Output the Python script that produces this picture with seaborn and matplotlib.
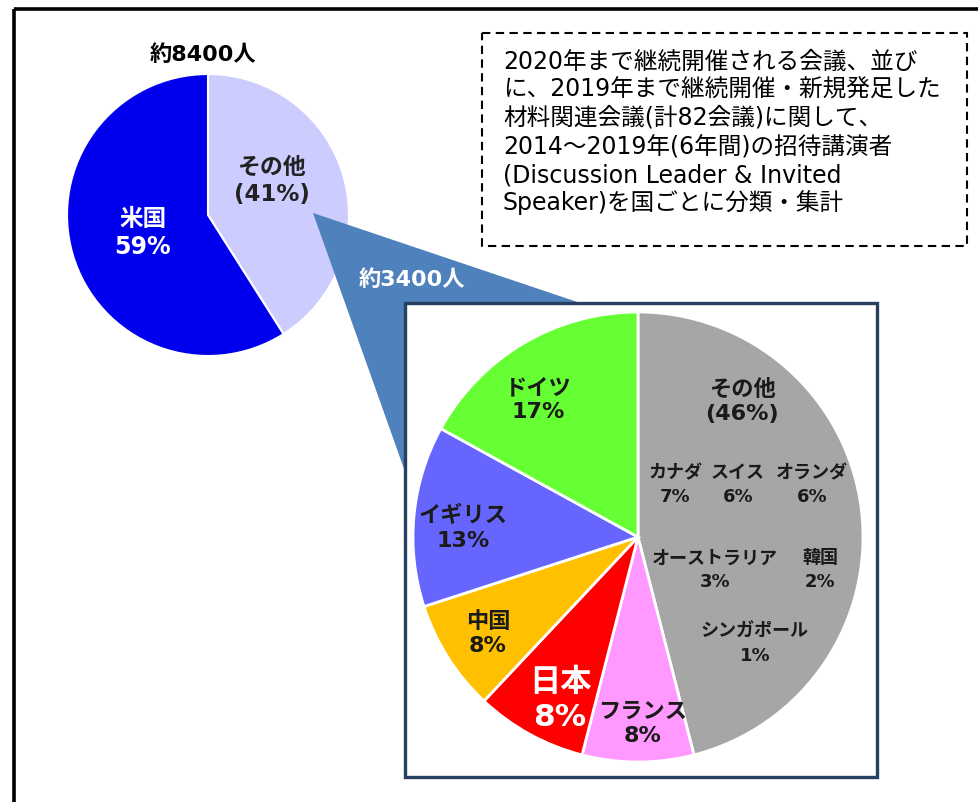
import matplotlib
matplotlib.use('Agg')
import matplotlib.pyplot as plt
from matplotlib.patches import Rectangle, Polygon
import seaborn as sns

sns.set_theme(style='white')
plt.rcParams['font.family'] = ['DejaVu Sans', 'Noto Sans CJK JP']

# 招待講演者 全体 (約8400人)
total_names = ['その他', '米国']
total_share = [41, 59]
total_colors = ['#CCCCFF', '#0000EE']
total_label = '約8400人'

# 米国以外の内訳 (約3400人)
other_names = ['その他', 'フランス', '日本', '中国', 'イギリス', 'ドイツ']
other_share = [46, 8, 8, 8, 13, 17]
other_colors = ['#A6A6A6', '#FF99FF', '#FF0000', '#FFC000', '#6666FF', '#66FF33']
other_label = '約3400人'

# 内訳「その他」の中身
minor_names = ['カナダ', 'スイス', 'オランダ', 'オーストラリア', '韓国', 'シンガポール']
minor_share = [7, 6, 6, 3, 2, 1]

note_lines = [
    '2020年まで継続開催される会議、並び',
    'に、2019年まで継続開催・新規発足した',
    '材料関連会議(計82会議)に関して、',
    '2014～2019年(6年間)の招待講演者',
    '(Discussion Leader & Invited',
    'Speaker)を国ごとに分類・集計',
]

W, H = 979, 802
fig = plt.figure(figsize=(W / 100, H / 100), dpi=100)


def px_axes(x0, y0, x1, y1, z):
    ax = fig.add_axes([x0 / W, 1 - y1 / H, (x1 - x0) / W, (y1 - y0) / H])
    ax.set_zorder(z)
    return ax


def overlay(z):
    ax = px_axes(0, 0, W, H, z)
    ax.set_xlim(0, W)
    ax.set_ylim(H, 0)
    ax.axis('off')
    return ax


def pie_axes(cx, cy, r, z):
    pad = 1.04
    ax = px_axes(cx - r * pad, cy - r * pad, cx + r * pad, cy + r * pad, z)
    return ax, pad


# background: outer frame + note box
bg = overlay(0)
bg.add_patch(Rectangle((14, 9), 1100, 900, fill=False, edgecolor='black', lw=2.6))
bg.add_patch(Rectangle((482, 33), 485, 213, fill=False, edgecolor='black',
                       lw=1.5, linestyle=(0, (4, 2.6))))
note_y = [62, 90, 118, 147, 175, 203]
for line, y in zip(note_lines, note_y):
    bg.text(503, y, line, fontsize=17, color='black', ha='left', va='center')

# left pie
ax1, pad = pie_axes(208, 215, 141, 1)
ax1.pie(total_share, colors=total_colors, startangle=90, counterclock=False,
        wedgeprops=dict(edgecolor='white', linewidth=1.5))
ax1.set_xlim(-pad, pad)
ax1.set_ylim(-pad, pad)
ax1.axis('off')

# connector + white frame behind the right pie
mid = overlay(2)
mid.add_patch(Polygon([(313, 213), (607, 312), (640, 537), (408, 480)],
                      closed=True, facecolor='#4F81BD', edgecolor='none'))
mid.add_patch(Rectangle((405, 303), 472, 474, facecolor='white',
                        edgecolor='#254061', lw=2.4))

# right pie
ax2, pad = pie_axes(638, 537, 225, 3)
ax2.pie(other_share, colors=other_colors, startangle=90, counterclock=False,
        wedgeprops=dict(edgecolor='white', linewidth=2))
ax2.set_xlim(-pad, pad)
ax2.set_ylim(-pad, pad)
ax2.axis('off')

# labels
top = overlay(4)
kw = dict(ha='center', va='center', fontweight='bold')
top.text(203, 55, total_label, fontsize=16, color='black', **kw)
top.text(412, 280, other_label, fontsize=16, color='white', **kw)

top.text(272, 181, f'{total_names[0]}\n({total_share[0]}%)', fontsize=16.5,
         color='#222222', linespacing=1.2, **kw)
top.text(143, 233, f'{total_names[1]}\n{total_share[1]}%', fontsize=17,
         color='white', linespacing=1.25, **kw)

other_pos = [(742, 401), (643, 724), (560, 700), (488, 634), (463, 528), (538, 400)]
for name, v, (x, y) in zip(other_names, other_share, other_pos):
    if name == 'その他':
        txt, size, col = f'{name}\n({v}%)', 16, '#1a1a1a'
    elif name == '日本':
        txt, size, col = f'{name}\n{v}%', 22.5, 'white'
    else:
        txt, size, col = f'{name}\n{v}%', 16, '#1a1a1a'
    top.text(x, y, txt, fontsize=size, color=col, linespacing=1.25, **kw)

minor_pos = [(675, 485), (738, 485), (812, 485), (715, 570), (820, 570), (755, 644)]
for name, v, (x, y) in zip(minor_names, minor_share, minor_pos):
    top.text(x, y, f'{name}\n{v}%', fontsize=13, color='#1a1a1a',
             linespacing=1.4, **kw)

fig.savefig('out.png', dpi=100, facecolor='white')
